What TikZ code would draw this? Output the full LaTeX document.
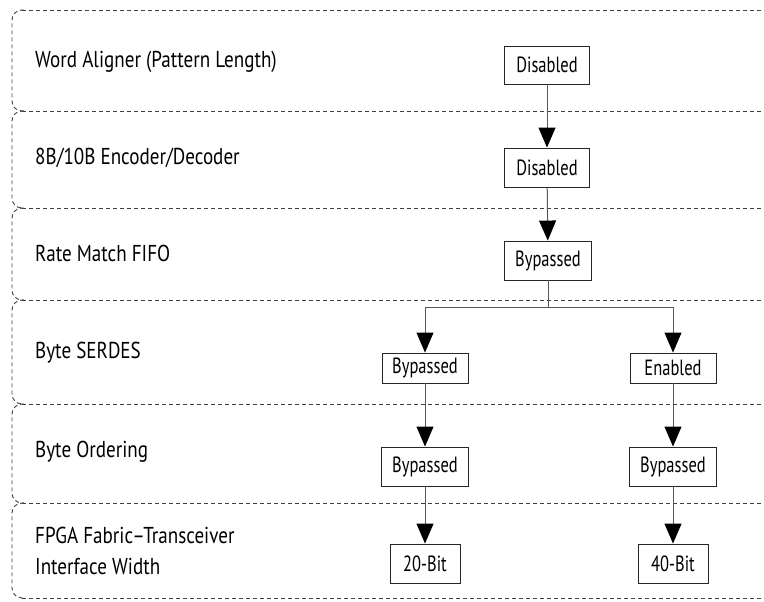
\documentclass[tikz,border=0pt]{standalone}
\usepackage{fontspec}
\setmainfont[FakeStretch=0.83]{PT Sans}
\newfontfamily\boxfont[FakeStretch=0.75]{PT Sans}
\usetikzlibrary{arrows.meta}
\tikzset{
  rowline/.style={draw=black!75, line width=0.9pt, dash pattern=on 4pt off 3pt},
  valbox/.style={draw=black!85, line width=0.9pt, fill=white, inner sep=0pt, font=\boxfont\fontsize{22}{24}\selectfont},
  lbl/.style={anchor=west, inner sep=0pt, align=left, font=\fontsize{23}{31}\selectfont},
  conn/.style={draw=black!65, line width=1pt, -{Triangle[width=17pt,length=20pt,color=black]}},
  plain/.style={draw=black!65, line width=1pt}
}
\begin{document}
\begin{tikzpicture}[x=1pt,y=-1pt]
\useasboundingbox (0,0) rectangle (764,602);
\clip (0,0) rectangle (764,602);
% row frames
\foreach \t/\b in {10/111,111/208,208/300,300/404,404/503,503/598}{
  \draw[rowline, rounded corners=10pt] (24,\t) -- (12,\t) -- (12,\b) -- (24,\b);
}
\foreach \y in {10,111,208,300,404,503,598}{
  \draw[rowline] (22,\y) -- (770,\y);
}
% labels
\node[lbl] (l1) at (35,62) {Word Aligner (Pattern Length)};
\node[lbl] (l2) at (35,158) {8B/10B Encoder/Decoder};
\node[lbl] (l3) at (35,253) {Rate Match FIFO};
\node[lbl] (l4) at (35,353) {Byte SERDES};
\node[lbl] (l5) at (35,452) {Byte Ordering};
\node[lbl] (l6) at (35,551) {FPGA Fabric--Transceiver\\Interface Width};
% boxes
\node[valbox, minimum width=85pt, minimum height=38pt] (wa) at (547,65) {Disabled};
\node[valbox, minimum width=85pt, minimum height=39pt] (ed) at (547,167.5) {Disabled};
\node[valbox, minimum width=87pt, minimum height=39pt] (rm) at (548,260.5) {Bypassed};
\node[valbox, minimum width=86pt, minimum height=30pt] (sb) at (425,368) {Bypassed};
\node[valbox, minimum width=86pt, minimum height=30pt] (se) at (673,368) {Enabled};
\node[valbox, minimum width=87pt, minimum height=39pt] (ob) at (425,466.5) {Bypassed};
\node[valbox, minimum width=87pt, minimum height=39pt] (oe) at (673,466.5) {Bypassed};
\node[valbox, minimum width=70pt, minimum height=39pt] (w20) at (425,563.5) {20-Bit};
\node[valbox, minimum width=70pt, minimum height=39pt] (w40) at (673,563.5) {40-Bit};
% connectors
\coordinate (br) at (548,307);
\draw[conn] (wa) -- (ed);
\draw[conn] (ed) -- (rm);
\draw[plain] (rm) -- (br);
\draw[conn] (br) -| (sb);
\draw[conn] (br) -| (se);
\draw[conn] (sb) -- (ob);
\draw[conn] (se) -- (oe);
\draw[conn] (ob) -- (w20);
\draw[conn] (oe) -- (w40);
\end{tikzpicture}
\end{document}
